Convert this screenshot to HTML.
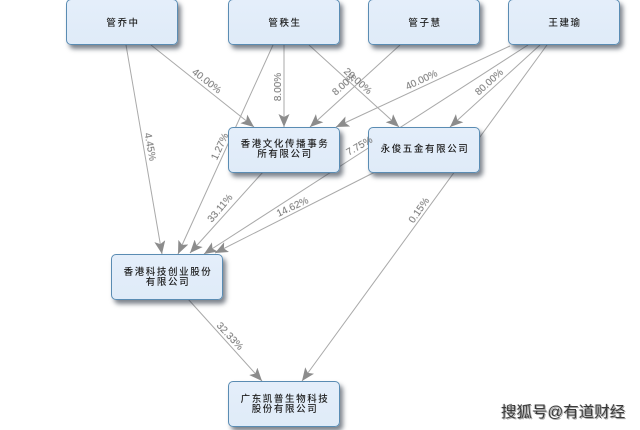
<!DOCTYPE html>
<html lang="zh">
<head>
<meta charset="utf-8">
<style>
html,body{margin:0;padding:0;background:#fff}
#c{position:relative;width:640px;height:430px;overflow:hidden;background:#fff;font-family:"Liberation Sans","Noto Sans CJK SC",sans-serif}
svg{position:absolute;left:0;top:0}
.n{position:absolute;width:110px;height:44px;box-sizing:content-box;border:1.4px solid #5a8cb3;border-radius:5px;background:linear-gradient(#e4eefa,#dfebf8);box-shadow:3px 4px 5px rgba(40,50,65,.6);display:flex;align-items:center;justify-content:center;text-align:center;font-size:9.5px;line-height:10px;color:#1e1e1e;letter-spacing:1.6px;filter:blur(.3px);font-weight:500}
.t{position:relative;left:1px}
.l{position:absolute;font-size:10px;line-height:10px;color:#6e6e6e;white-space:nowrap;transform:translate(-50%,-50%) rotate(var(--r));filter:blur(.3px)}
.w{position:absolute;left:501px;top:404px;font-size:15.5px;line-height:18px;color:#3a3a3a;white-space:nowrap;text-shadow:1px 1px 0 #aaa,-1px 0 0 #ddd;filter:blur(.3px)}
</style>
</head>
<body>
<div id="c">
<svg width="640" height="430" viewBox="0 0 640 430">
<defs>
<marker id="a" markerUnits="userSpaceOnUse" markerWidth="15" markerHeight="13" refX="13" refY="5.5" orient="auto">
<path d="M0 0 L13 5.5 L0 11 L3 5.5 Z" fill="#8c8c8c"/>
</marker>
</defs>
<g stroke="#a9a9a9" stroke-width="1" fill="none">
<path d="M126 45 L162 254" marker-end="url(#a)"/>
<path d="M151 45 L254 127" marker-end="url(#a)"/>
<path d="M273 45 L178 254" marker-end="url(#a)"/>
<path d="M284 45 L284 127" marker-end="url(#a)"/>
<path d="M309 45 L399 127" marker-end="url(#a)"/>
<path d="M400 45 L310 127" marker-end="url(#a)"/>
<path d="M510 46 L336 127" marker-end="url(#a)"/>
<path d="M528 45 L204 254" marker-end="url(#a)"/>
<path d="M540 45 L450 127" marker-end="url(#a)"/>
<path d="M547 45 L302 381" marker-end="url(#a)"/>
<path d="M375 172 L215 253" marker-end="url(#a)"/>
<path d="M263 172 L190 253" marker-end="url(#a)"/>
<path d="M188 299 L262 381" marker-end="url(#a)"/>
</g>
</svg>

<div class="n" style="left:66px;top:-1px"><span class="t" style="top:2px">管乔中</span></div>
<div class="n" style="left:228px;top:-1px"><span class="t" style="top:2px">管秩生</span></div>
<div class="n" style="left:368px;top:-1px"><span class="t" style="top:2px">管子慧</span></div>
<div class="n" style="left:508px;top:-1px"><span class="t" style="top:2px">王建瑜</span></div>
<div class="n" style="left:228px;top:127px"><span class="t" style="top:0">香港文化传播事务<br>所有限公司</span></div>
<div class="n" style="left:368px;top:127px"><span class="t" style="top:0">永俊五金有限公司</span></div>
<div class="n" style="left:111px;top:254px"><span class="t" style="top:1px">香港科技创业股份<br>有限公司</span></div>
<div class="n" style="left:228px;top:381px"><span class="t" style="top:1px">广东凯普生物科技<br>股份有限公司</span></div>

<div class="l" style="left:149px;top:147px;--r:80deg">4.45%</div>
<div class="l" style="left:206px;top:82px;--r:38deg">40.00%</div>
<div class="l" style="left:221px;top:147px;--r:-65deg">1.27%</div>
<div class="l" style="left:279px;top:87px;--r:-90deg">8.00%</div>
<div class="l" style="left:357px;top:82px;--r:42deg">20.00%</div>
<div class="l" style="left:345px;top:85px;--r:-42deg">8.00%</div>
<div class="l" style="left:422px;top:81px;--r:-25deg">40.00%</div>
<div class="l" style="left:360px;top:147px;--r:-30deg">7.75%</div>
<div class="l" style="left:490px;top:83px;--r:-42deg">80.00%</div>
<div class="l" style="left:420px;top:211px;--r:-55deg">0.15%</div>
<div class="l" style="left:293px;top:208px;--r:-25deg">14.62%</div>
<div class="l" style="left:221px;top:209px;--r:-50deg">33.11%</div>
<div class="l" style="left:229px;top:337px;--r:47deg">32.33%</div>

<div class="w">搜狐号@有道财经</div>
</div>
</body>
</html>
